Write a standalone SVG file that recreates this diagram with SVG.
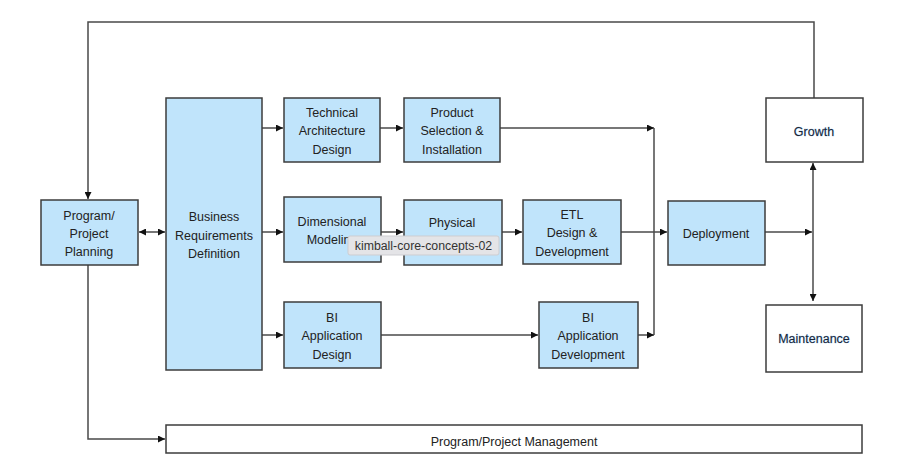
<svg xmlns="http://www.w3.org/2000/svg" width="920" height="473" viewBox="0 0 920 473">
<style>
.box{fill:#c0e4fb;stroke:#3c3c3c;stroke-width:1.5}
.wbox{fill:#ffffff;stroke:#3c3c3c;stroke-width:1.5}
.t{font-family:"Liberation Sans",Arial,sans-serif;font-size:12.5px;fill:#222;text-anchor:middle}
.tb{font-family:"Liberation Sans",Arial,sans-serif;font-size:12.5px;fill:#1b2636;text-anchor:middle;stroke:#8fc3ee;stroke-width:0.5;paint-order:stroke}
.c{fill:none;stroke:#4a4a4a;stroke-width:1.5}
.tip{font-family:"Liberation Sans",Arial,sans-serif;font-size:12.3px;fill:#333;text-anchor:middle}
</style>
<defs>
<marker id="ah" viewBox="0 0 10 10" refX="10" refY="5" markerWidth="7" markerHeight="7" markerUnits="userSpaceOnUse" orient="auto-start-reverse">
<path d="M0,0 L10,5 L0,10 z" fill="#111"/>
</marker>
</defs>
<rect width="920" height="473" fill="#ffffff"/>
<g id="connectors">
<path class="c" d="M814,98 V22 H88 V199" marker-end="url(#ah)"/>
<path class="c" d="M88,265 V439 H165" marker-end="url(#ah)"/>
<path class="c" d="M139,232 H165" marker-start="url(#ah)" marker-end="url(#ah)"/>
<path class="c" d="M262,128 H283" marker-end="url(#ah)"/>
<path class="c" d="M262,232 H283" marker-end="url(#ah)"/>
<path class="c" d="M262,335 H283" marker-end="url(#ah)"/>
<path class="c" d="M380,128 H403" marker-end="url(#ah)"/>
<path class="c" d="M500,128 H654" marker-end="url(#ah)"/>
<path class="c" d="M654,128 V335"/>
<path class="c" d="M381,232 H403" marker-end="url(#ah)"/>
<path class="c" d="M502,232 H522" marker-end="url(#ah)"/>
<path class="c" d="M621,232 H667" marker-end="url(#ah)"/>
<path class="c" d="M381,335 H538" marker-end="url(#ah)"/>
<path class="c" d="M638,335 H654" marker-end="url(#ah)"/>
<path class="c" d="M765,232 H812" marker-end="url(#ah)"/>
<path class="c" d="M813,163 V301" marker-start="url(#ah)" marker-end="url(#ah)"/>
</g>
<g id="planning">
<rect class="box" x="41" y="200" width="97" height="65"/>
<text class="t" x="89" y="220">Program/</text>
<text class="t" x="89" y="238">Project</text>
<text class="t" x="89" y="256">Planning</text>
</g>
<g id="business">
<rect class="box" x="166" y="98" width="96" height="272"/>
<text class="t" x="214" y="221">Business</text>
<text class="t" x="214" y="239.5">Requirements</text>
<text class="t" x="214" y="258">Definition</text>
</g>
<g id="techarch">
<rect class="box" x="284" y="98" width="96" height="64"/>
<text class="t" x="332" y="117">Technical</text>
<text class="t" x="332" y="135">Architecture</text>
<text class="t" x="332" y="154">Design</text>
</g>
<g id="product">
<rect class="box" x="404" y="98" width="96" height="64"/>
<text class="t" x="452" y="117">Product</text>
<text class="t" x="452" y="135">Selection &amp;</text>
<text class="t" x="452" y="154">Installation</text>
</g>
<g id="dimensional">
<rect class="box" x="284" y="197" width="97" height="65"/>
<text class="t" x="332" y="226">Dimensional</text>
<text class="t" x="332" y="244">Modeling</text>
</g>
<g id="physical">
<rect class="box" x="404" y="200" width="98" height="65"/>
<text class="t" x="452" y="227">Physical</text>
</g>
<g id="etl">
<rect class="box" x="523" y="200" width="98" height="64"/>
<text class="t" x="572" y="219">ETL</text>
<text class="t" x="572" y="237">Design &amp;</text>
<text class="t" x="572" y="256">Development</text>
</g>
<g id="deployment">
<rect class="box" x="668" y="201" width="97" height="64"/>
<text class="t" x="716" y="238">Deployment</text>
</g>
<g id="growth">
<rect class="wbox" x="766" y="98" width="97" height="64"/>
<text class="tb" x="814" y="136">Growth</text>
</g>
<g id="maintenance">
<rect class="wbox" x="766" y="305" width="96" height="67"/>
<text class="tb" x="814" y="343">Maintenance</text>
</g>
<g id="biappdesign">
<rect class="box" x="284" y="302" width="97" height="66"/>
<text class="t" x="332" y="322">BI</text>
<text class="t" x="332" y="340">Application</text>
<text class="t" x="332" y="359">Design</text>
</g>
<g id="biappdev">
<rect class="box" x="539" y="302" width="99" height="66"/>
<text class="t" x="588" y="322">BI</text>
<text class="t" x="588" y="340">Application</text>
<text class="t" x="588" y="359">Development</text>
</g>
<g id="management">
<rect class="wbox" x="166" y="425" width="696" height="28"/>
<text class="t" x="514" y="446">Program/Project Management</text>
</g>
<g id="tooltip">
<rect x="348" y="236" width="151" height="19" rx="2" fill="#e4e4e7" stroke="#cdcdd1" stroke-width="1"/>
<text class="tip" x="423.5" y="250">kimball-core-concepts-02</text>
</g>
</svg>
